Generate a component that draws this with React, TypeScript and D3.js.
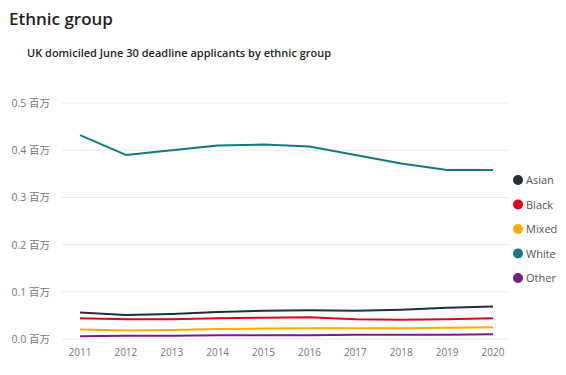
import React from "react";
import * as d3 from "d3";

const years = [2011, 2012, 2013, 2014, 2015, 2016, 2017, 2018, 2019, 2020];
const seriesNames = ["Asian", "Black", "Mixed", "White", "Other"];
const asian = [0.056, 0.051, 0.053, 0.057, 0.06, 0.061, 0.06, 0.062, 0.066, 0.069];
const black = [0.044, 0.042, 0.042, 0.044, 0.045, 0.046, 0.042, 0.041, 0.042, 0.044];
const mixed = [0.02, 0.018, 0.019, 0.021, 0.022, 0.023, 0.023, 0.023, 0.024, 0.025];
const white = [0.432, 0.39, 0.4, 0.41, 0.412, 0.408, 0.39, 0.372, 0.358, 0.358];
const other = [0.006, 0.007, 0.007, 0.008, 0.008, 0.008, 0.009, 0.009, 0.009, 0.01];
const yTicks = [0, 0.1, 0.2, 0.3, 0.4, 0.5];
const colors = ["#252D37", "#E3001B", "#FFAA00", "#117A82", "#7B1A86"];

export default function App() {
  const W = 566, H = 375;
  const x = d3.scaleLinear().domain([2011, 2020]).range([80, 493]);
  const y = d3.scaleLinear().domain([0, 0.5]).range([339, 103]);
  const data = [asian, black, mixed, white, other];
  const line = d3.line<number>().x((_, i) => x(years[i])).y((v) => y(v));
  const font = "'Segoe UI', 'Open Sans', 'Noto Sans', 'Noto Sans CJK SC', sans-serif";
  return (
    <svg width={W} height={H} style={{ position: "absolute", left: 0, top: 0, fontFamily: font }}>
      <rect width={W} height={H} fill="#fff" />
      <text x={9} y={25} fontSize={17} fontWeight={600} fill="#252423">Ethnic group</text>
      <text x={27} y={57} fontSize={11} fontWeight={600} fill="#252423">UK domiciled June 30 deadline applicants  by ethnic group</text>
      {yTicks.map((t) => (
        <g key={t}>
          <line x1={62} x2={508} y1={y(t)} y2={y(t)} stroke="#e9e9e9" strokeWidth={1} />
          <text x={50} y={y(t) + 4} fontSize={10.5} textAnchor="end" fill="#777" fontFamily="'Open Sans', 'Noto Sans CJK SC', sans-serif">
            {t.toFixed(1)} 百万
          </text>
        </g>
      ))}
      {years.map((yr) => (
        <text key={yr} x={x(yr)} y={356} fontSize={10} textAnchor="middle" fill="#777">{yr}</text>
      ))}
      {data.map((d, i) => (
        <path key={i} d={line(d) || ""} fill="none" stroke={colors[i]} strokeWidth={2} strokeLinejoin="round" />
      ))}
      {seriesNames.map((n, i) => (
        <g key={n}>
          <circle cx={518} cy={180 + i * 24.5} r={5} fill={colors[i]} />
          <text x={526} y={184 + i * 24.5} fontSize={11} fill="#555">{n}</text>
        </g>
      ))}
    </svg>
  );
}
